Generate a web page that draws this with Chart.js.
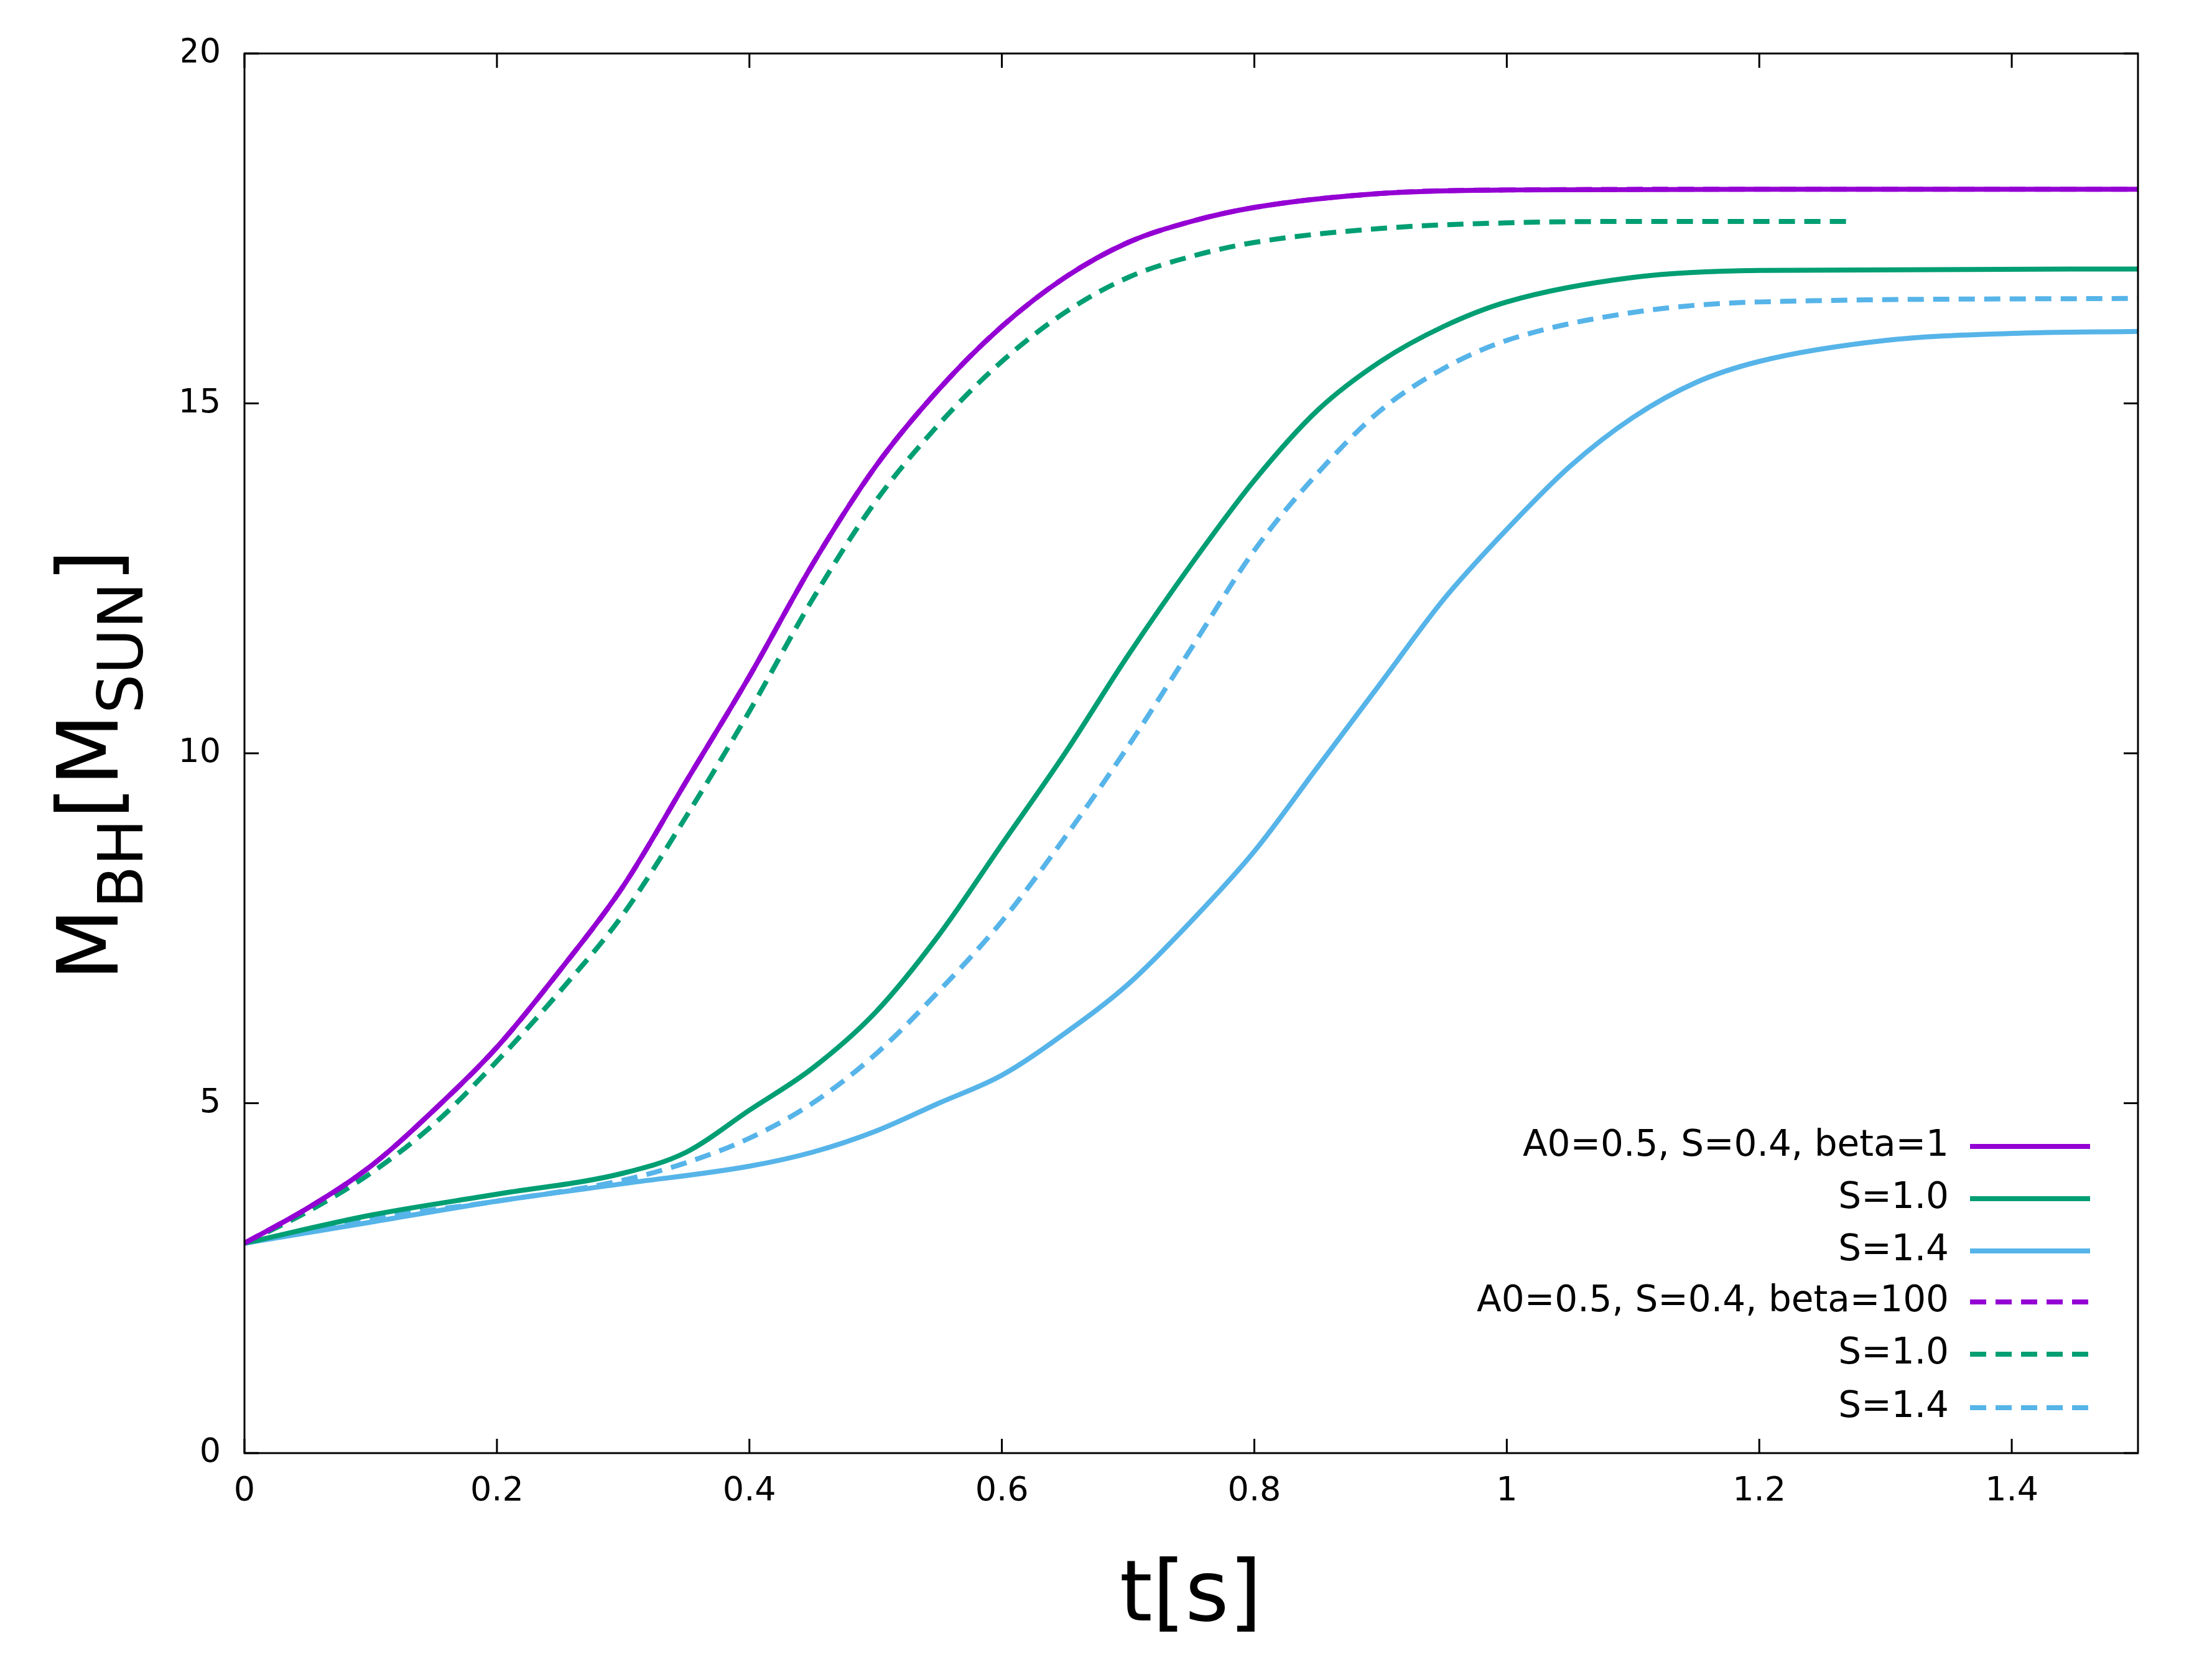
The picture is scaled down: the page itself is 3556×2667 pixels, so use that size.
<!DOCTYPE html>
<html lang="en">
<head>
<meta charset="UTF-8">
<title>M_BH vs t</title>
<script src="https://cdn.jsdelivr.net/npm/chart.js"></script>
<style>
  body { margin: 0; background: #fff; }
  canvas { display: block; }
</style>
</head>
<body>
<canvas id="chart" width="3556" height="2667"></canvas>
<script>
// data
const tPurple = [0, 0.05, 0.1, 0.15, 0.2, 0.25, 0.3, 0.35, 0.4, 0.45, 0.5, 0.55, 0.6, 0.65, 0.7, 0.75, 0.8, 0.9, 1.0, 1.2, 1.5];
const mPurple = [3, 3.5, 4.1, 4.9, 5.8, 6.9, 8.1, 9.6, 11.1, 12.7, 14.1, 15.2, 16.1, 16.8, 17.3, 17.6, 17.8, 18.0, 18.05, 18.06, 18.06];

const tGreenDash = [0, 0.05, 0.1, 0.15, 0.2, 0.25, 0.3, 0.35, 0.4, 0.45, 0.5, 0.55, 0.6, 0.65, 0.7, 0.75, 0.8, 0.9, 1.0, 1.1, 1.27];
const mGreenDash = [3, 3.45, 4.0, 4.7, 5.6, 6.6, 7.7, 9.1, 10.6, 12.2, 13.6, 14.7, 15.6, 16.3, 16.8, 17.1, 17.3, 17.5, 17.58, 17.6, 17.6];

const tGreen = [0, 0.1, 0.2, 0.3, 0.35, 0.4, 0.45, 0.5, 0.55, 0.6, 0.65, 0.7, 0.75, 0.8, 0.85, 0.9, 0.95, 1.0, 1.1, 1.2, 1.5];
const mGreen = [3, 3.4, 3.7, 4.0, 4.3, 4.9, 5.5, 6.3, 7.4, 8.7, 10.0, 11.4, 12.7, 13.9, 14.9, 15.6, 16.1, 16.45, 16.8, 16.9, 16.92];

const tBlueDash = [0, 0.1, 0.2, 0.3, 0.35, 0.4, 0.45, 0.5, 0.55, 0.6, 0.65, 0.7, 0.75, 0.8, 0.85, 0.9, 0.95, 1.0, 1.1, 1.2, 1.5];
const mBlueDash = [3, 3.35, 3.6, 3.9, 4.15, 4.5, 5.0, 5.7, 6.6, 7.6, 8.8, 10.1, 11.5, 12.9, 14.0, 14.9, 15.5, 15.9, 16.3, 16.45, 16.5];

const tBlue = [0, 0.1, 0.2, 0.3, 0.4, 0.45, 0.5, 0.55, 0.6, 0.65, 0.7, 0.75, 0.8, 0.85, 0.9, 0.95, 1.0, 1.05, 1.1, 1.15, 1.2, 1.3, 1.4, 1.5];
const mBlue = [3, 3.3, 3.6, 3.85, 4.1, 4.3, 4.6, 5.0, 5.4, 6.0, 6.7, 7.6, 8.6, 9.8, 11.0, 12.2, 13.2, 14.1, 14.8, 15.3, 15.6, 15.9, 16.0, 16.03];

const xTickValues = [0, 0.2, 0.4, 0.6, 0.8, 1, 1.2, 1.4];
const yTickValues = [0, 5, 10, 15, 20];
const legendLabels = ['A0=0.5, S=0.4, beta=1', 'S=1.0', 'S=1.4', 'A0=0.5, S=0.4, beta=100', 'S=1.0', 'S=1.4'];

const PURPLE = '#9400d3', GREEN = '#009e73', BLUE = '#56b4e9';
const DASH = [26, 15];
const FONT = '"DejaVu Sans", sans-serif';

function pts(t, m) { return t.map((x, i) => ({ x: x, y: m[i] })); }
function line(label, t, m, color, dashed) {
    return {
        label, data: pts(t, m), borderColor: color, borderWidth: 8,
        borderDash: dashed ? DASH : [], pointRadius: 0,
        cubicInterpolationMode: 'monotone', fill: false
    };
}

const datasets = [
    line(legendLabels[0], tPurple, mPurple, PURPLE, false),
    line(legendLabels[1], tGreen, mGreen, GREEN, false),
    line(legendLabels[2], tBlue, mBlue, BLUE, false),
    line(legendLabels[3], tPurple, mPurple, PURPLE, true),
    line(legendLabels[4], tGreenDash, mGreenDash, GREEN, true),
    line(legendLabels[5], tBlueDash, mBlueDash, BLUE, true)
];

const frame = {
    id: 'frame',
    afterDraw(chart) {
        const ctx = chart.ctx, a = chart.chartArea;
        const xs = chart.scales.x, ys = chart.scales.y;
        ctx.save();
        ctx.strokeStyle = '#000';
        ctx.lineWidth = 3;
        ctx.strokeRect(a.left, a.top, a.right - a.left, a.bottom - a.top);
        const L = 23;
        ctx.beginPath();
        xs.ticks.forEach(t => {
            const px = xs.getPixelForValue(t.value);
            ctx.moveTo(px, a.bottom); ctx.lineTo(px, a.bottom - L);
            ctx.moveTo(px, a.top); ctx.lineTo(px, a.top + L);
        });
        ys.ticks.forEach(t => {
            const py = ys.getPixelForValue(t.value);
            ctx.moveTo(a.left, py); ctx.lineTo(a.left + L, py);
            ctx.moveTo(a.right, py); ctx.lineTo(a.right - L, py);
        });
        ctx.stroke();

        // legend
        const rowY = [1843, 1927, 2011, 2093, 2177, 2263];
        ctx.font = '58px ' + FONT;
        ctx.fillStyle = '#000';
        ctx.textAlign = 'right';
        ctx.textBaseline = 'middle';
        datasets.forEach((d, i) => {
            ctx.fillText(legendLabels[i], 3133, rowY[i]);
            ctx.strokeStyle = d.borderColor;
            ctx.lineWidth = 8;
            ctx.setLineDash(d.borderDash);
            ctx.beginPath();
            ctx.moveTo(3167, rowY[i]); ctx.lineTo(3360, rowY[i]);
            ctx.stroke();
        });
        ctx.setLineDash([]);

        // axis titles
        ctx.fillStyle = '#000';
        ctx.textAlign = 'center';
        ctx.textBaseline = 'alphabetic';
        ctx.font = '135px ' + FONT;
        ctx.fillText('t[s]', 1914, 2605);

        ctx.translate(189, 1230);
        ctx.rotate(-Math.PI / 2);
        const parts = [['M', 135, 0], ['BH', 100, 40], ['[M', 135, 0], ['SUN', 100, 40], [']', 135, 0]];
        let w = 0;
        parts.forEach(p => { ctx.font = p[1] + 'px ' + FONT; w += ctx.measureText(p[0]).width; });
        let x = -w / 2;
        ctx.textAlign = 'left';
        parts.forEach(p => {
            ctx.font = p[1] + 'px ' + FONT;
            ctx.fillText(p[0], x, p[2]);
            x += ctx.measureText(p[0]).width;
        });
        ctx.restore();
    }
};

new Chart(document.getElementById('chart'), {
    type: 'line',
    data: { datasets },
    options: {
        responsive: false,
        animation: false,
        devicePixelRatio: 1,
        layout: { padding: { left: 293, right: 119, top: 86, bottom: 231 } },
        plugins: { legend: { display: false }, tooltip: { enabled: false } },
        scales: {
            x: {
                type: 'linear', min: 0, max: 1.5,
                afterFit(s) { s.height = 100; },
                afterBuildTicks(s) { s.ticks = xTickValues.map(v => ({ value: v })); },
                grid: { display: false, drawTicks: false },
                border: { display: false },
                ticks: { color: '#000', font: { size: 54, family: FONT }, padding: 30, maxRotation: 0,
                         callback: v => String(v) }
            },
            y: {
                min: 0, max: 20,
                afterFit(s) { s.width = 100; },
                afterBuildTicks(s) { s.ticks = yTickValues.map(v => ({ value: v })); },
                grid: { display: false, drawTicks: false },
                border: { display: false },
                ticks: { color: '#000', font: { size: 54, family: FONT }, padding: 38 }
            }
        }
    },
    plugins: [frame]
});
</script>
</body>
</html>
